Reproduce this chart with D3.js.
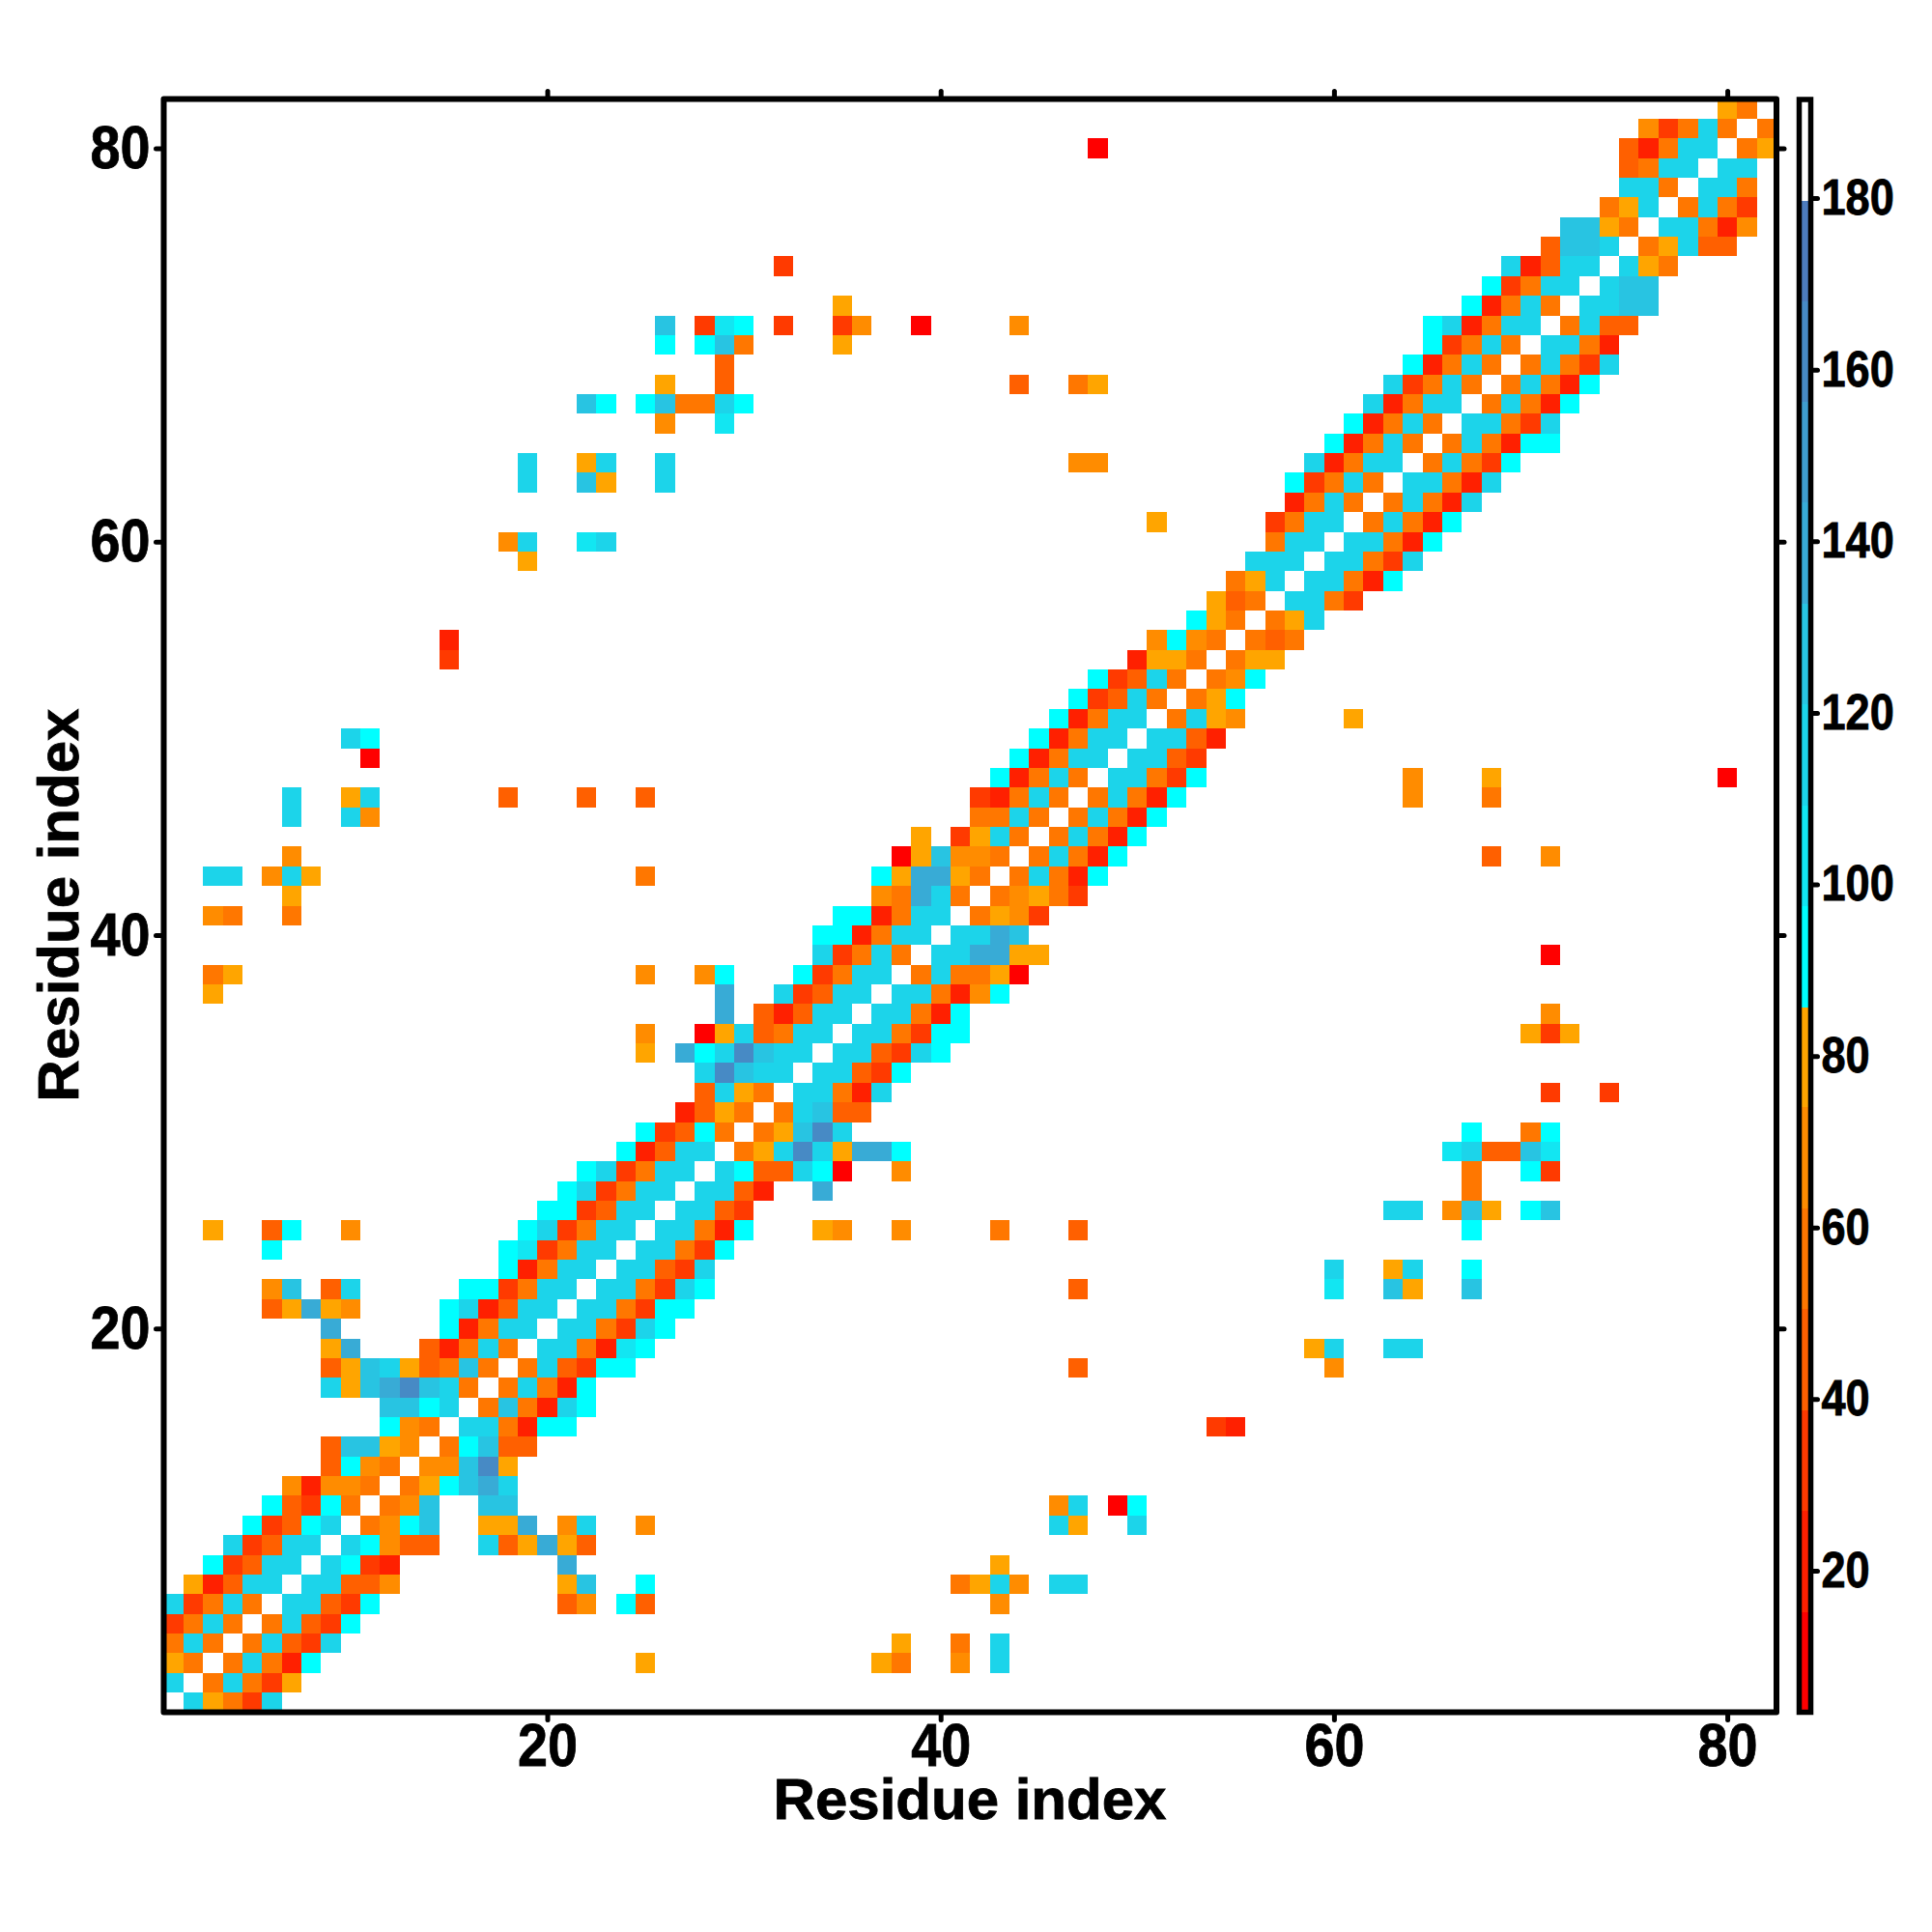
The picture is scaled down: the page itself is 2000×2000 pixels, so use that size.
<!DOCTYPE html>
<html>
<head>
<meta charset="utf-8">
<script src="https://cdn.jsdelivr.net/npm/d3@7"></script>
<style>
  body { margin: 0; background: #fff; }
  text { font-family: "Liberation Sans", sans-serif; font-weight: bold; fill: #000; stroke: #000; stroke-width: 0.8px; }
</style>
</head>
<body>
<script>
// residue contact map, symmetric, so only i < j is listed
// nearBand[i-1] holds the values for j = i+1, i+2, ...
const nearBand = [
  [115,80,56,33,115], [56,115,56,33,80], [56,115,56,21,92], [56,115,44,33,115],
  [56,115,44,33,92], [115,115,44,33,92], [115,115,44,44,68], [115,92,33,21],
  [115,92,68,44,44], [56,68,92,127], [56,68,127], [56,80,92,127,139,115],
  [68,68,127,162,80], [56,92,127,44,44], [115,115,56,21,92,92], [56,127,56,21,115,92],
  [56,115,56,21,92], [56,115,44,33,92,92], [115,115,56,21,103,92], [115,115,56,33,115,92],
  [115,115,56,33,92,92], [115,115,56,33,115,92], [115,115,44,33,115], [115,115,56,33,92],
  [115,115,56,21,92], [115,115,44,33], [115,115,44,21], [115,92,44,44,115,92,9],
  [56,80,115,162,115,80,139,139,92], [56,80,127,162,115], [56,115,127,44,44], [115,115,56,21,115],
  [115,115,44,33,92], [115,115,44,33,115,92], [115,115,56,33,92,92], [115,115,56,21,92],
  [115,115,56,21,68,92], [56,115,56,56,80,9], [115,115,139,139,80,80], [115,115,139,127],
  [56,80,68,33], [56,68,80,56,33], [56,115,56,21,92], [56,115,56,21,92],
  [56,115,56,21,92], [56,115,56,21,92], [56,115,56,21,92], [115,115,56,33,92],
  [115,115,44,33], [115,115,44,21], [56,115,80,68], [56,80,92],
  [56,68,92], [56,80,80], [56,44,56], [56,80,115],
  [115,115,56,33], [115,115,56,21,92], [115,115,56,33,115], [115,115,56,21,92],
  [56,115,56,21,92], [56,115,56,21,115], [115,115,56,21,115], [56,115,56,33,92],
  [56,115,56,21,92,92], [115,115,56,33,115], [56,115,56,21,92], [56,115,56,21,92],
  [56,115,56,33,115], [115,115,56,21], [56,115,44,44], [115,115,127,127],
  [115,127,127], [115,80,56], [56,80,115,44,44], [115,115,56,21,68],
  [56,115,56,33], [115,115,56], [115,115], [56,80], [56]
];

// contacts off the main band
const farI = [3,3,3,3,3, 4,4,4, 6,6,6,6,6, 7,7,7,7,7,7,7,7,7, 8,8,
  9,9,9,9,9,9, 10,10,10,10,10,10,10,10,10, 11,11,11,11,11,11, 15,15, 18,18,
  19,19,19,19, 22,22,22,22,22, 23,23,23,23, 25,25,25,25,25,25,
  26,26,26,26,26,26,26, 27,27, 28,28,28,28, 29,29,29,29,29,29, 30,30,30,
  32,32, 35,35,35, 36, 39, 44,44, 47,47, 48,48,48, 51];
const farJ = [25,37,38,41,43, 38,41,43, 21,22,24,25,43, 21,22,25,41,42,43,44,46,47, 21,43,
  17,18,19,20,21,22, 17,18,19,21,22,25,46,47,50, 17,18,46,47,49,50, 54,55, 47,60,
  59,60,63,64, 47,60,63,64,67, 60,63,64,67, 34,35,38,43,47,67,
  63,64,66,67,68,70,71, 34,67, 38,67,70,71, 66,67,68,69,70,71, 67,70,71,
  71,74, 70,71,72, 71, 71, 68,71, 64,68, 64,68,80, 61];
const farV = [80,80,56,68,115, 80,56,115, 44,68,92,44,68, 80,127,92,56,80,115,68,115,115, 139,80,
  115,44,80,139,80,44, 80,80,139,68,115,68,115,80,115, 127,127,68,115,9,92, 33,21, 44,68,
  80,115,115,115, 44,103,127,80,127, 115,80,115,92, 80,68,68,56,44,92,
  115,115,68,127,80,92,127, 139,56, 68,56,92,33, 103,115,44,44,127,103, 92,56,92,
  33,33, 80,33,80, 68, 9, 44,68, 68,56, 68,80,9, 80];

const residueTicks = [20, 40, 60, 80];
const barTicks = [20, 40, 60, 80, 100, 120, 140, 160, 180];
const bandEdges = [15.2, 27, 38.7, 50.5, 62.2, 74, 85.7, 97.5, 109.2, 121, 132.7, 144.5, 156.2, 168, 179.7];
const bandColors = ["#ff0000","#ff2000","#ff3a00","#ff6000","#ff7700","#ff8c00","#ffa500",
  "#00ffff","#12e6f2","#1cd4ea","#28c4e2","#38abd6","#3f9dce","#478ac5","#4d7cbd","#ffffff"];
const barDomain = [3.5, 191.5];
const digitSqueeze = 0.885;

const svg = d3.select("body").append("svg")
    .attr("width", 2000)
    .attr("height", 2000);

const x = d3.scaleLinear().domain([0.5, 82.5]).range([169.5, 1839]);
const y = d3.scaleLinear().domain([0.5, 82.5]).range([1772.5, 102.5]);
const color = d3.scaleThreshold().domain(bandEdges).range(bandColors);

// both triangles get drawn
let cells = [];
nearBand.forEach((row, k) => {
    row.forEach((v, m) => {
        let i = k + 1, j = i + m + 1;
        cells.push({i: i, j: j, v: v}, {i: j, j: i, v: v});
    });
});
farI.forEach((i, k) => {
    cells.push({i: i, j: farJ[k], v: farV[k]}, {i: farJ[k], j: i, v: farV[k]});
});

svg.append("g")
    .attr("shape-rendering", "crispEdges")
    .selectAll("rect")
    .data(cells)
    .join("rect")
    .attr("x", d => x(d.i - 0.5))
    .attr("y", d => y(d.j + 0.5))
    .attr("width", d => x(d.i + 0.5) - x(d.i - 0.5))
    .attr("height", d => y(d.j - 0.5) - y(d.j + 0.5))
    .attr("fill", d => color(d.v));

// frame
svg.append("rect")
    .attr("x", x.range()[0])
    .attr("y", y.range()[1])
    .attr("width", x.range()[1] - x.range()[0])
    .attr("height", y.range()[0] - y.range()[1])
    .attr("fill", "none")
    .attr("stroke", "#000")
    .attr("stroke-width", 6)
    .attr("stroke-linejoin", "round");

function styleAxis(g, fontSize) {
    g.select(".domain").remove();
    g.selectAll(".tick line")
        .attr("stroke", "#000")
        .attr("stroke-width", 5)
        .attr("stroke-linecap", "round");
    // the digits in the original are narrow, squeeze them around their anchor
    g.selectAll(".tick text")
        .style("font-size", fontSize + "px")
        .attr("x", function () { return +this.getAttribute("x") / digitSqueeze; })
        .attr("transform", `scale(${digitSqueeze},1)`);
}

svg.append("g")
    .attr("transform", `translate(0,${y.range()[0]})`)
    .call(d3.axisBottom(x).tickValues(residueTicks).tickSize(8).tickPadding(3))
    .call(styleAxis, 63);

svg.append("g")
    .attr("transform", `translate(${x.range()[0]},0)`)
    .call(d3.axisLeft(y).tickValues(residueTicks).tickSize(8).tickPadding(6))
    .call(styleAxis, 63);

svg.append("g")
    .attr("transform", `translate(0,${y.range()[1]})`)
    .call(d3.axisTop(x).tickValues(residueTicks).tickSize(8).tickFormat(""))
    .call(styleAxis, 63);

svg.append("g")
    .attr("transform", `translate(${x.range()[1]},0)`)
    .call(d3.axisRight(y).tickValues(residueTicks).tickSize(8).tickFormat(""))
    .call(styleAxis, 63);

svg.append("text")
    .attr("x", 1004)
    .attr("y", 1883)
    .attr("text-anchor", "middle")
    .style("font-size", "60px")
    .text("Residue index");

svg.append("text")
    .attr("transform", "translate(81,937) rotate(-90)")
    .attr("text-anchor", "middle")
    .style("font-size", "60px")
    .text("Residue index");

// colour bar
const barY = d3.scaleLinear().domain(barDomain).range([1772.5, 103]);
const barEdges = [barDomain[0], ...bandEdges, barDomain[1]];

svg.append("g")
    .attr("shape-rendering", "crispEdges")
    .selectAll("rect")
    .data(bandColors)
    .join("rect")
    .attr("x", 1862.5)
    .attr("y", (d, i) => barY(barEdges[i + 1]))
    .attr("width", 12)
    .attr("height", (d, i) => barY(barEdges[i]) - barY(barEdges[i + 1]))
    .attr("fill", d => d);

svg.append("rect")
    .attr("x", 1862.5)
    .attr("y", 103)
    .attr("width", 12)
    .attr("height", 1669.5)
    .attr("fill", "none")
    .attr("stroke", "#000")
    .attr("stroke-width", 5.5);

svg.append("g")
    .attr("transform", "translate(1874.5,0)")
    .call(d3.axisRight(barY).tickValues(barTicks).tickSize(7).tickPadding(4))
    .call(styleAxis, 51);
</script>
</body>
</html>
